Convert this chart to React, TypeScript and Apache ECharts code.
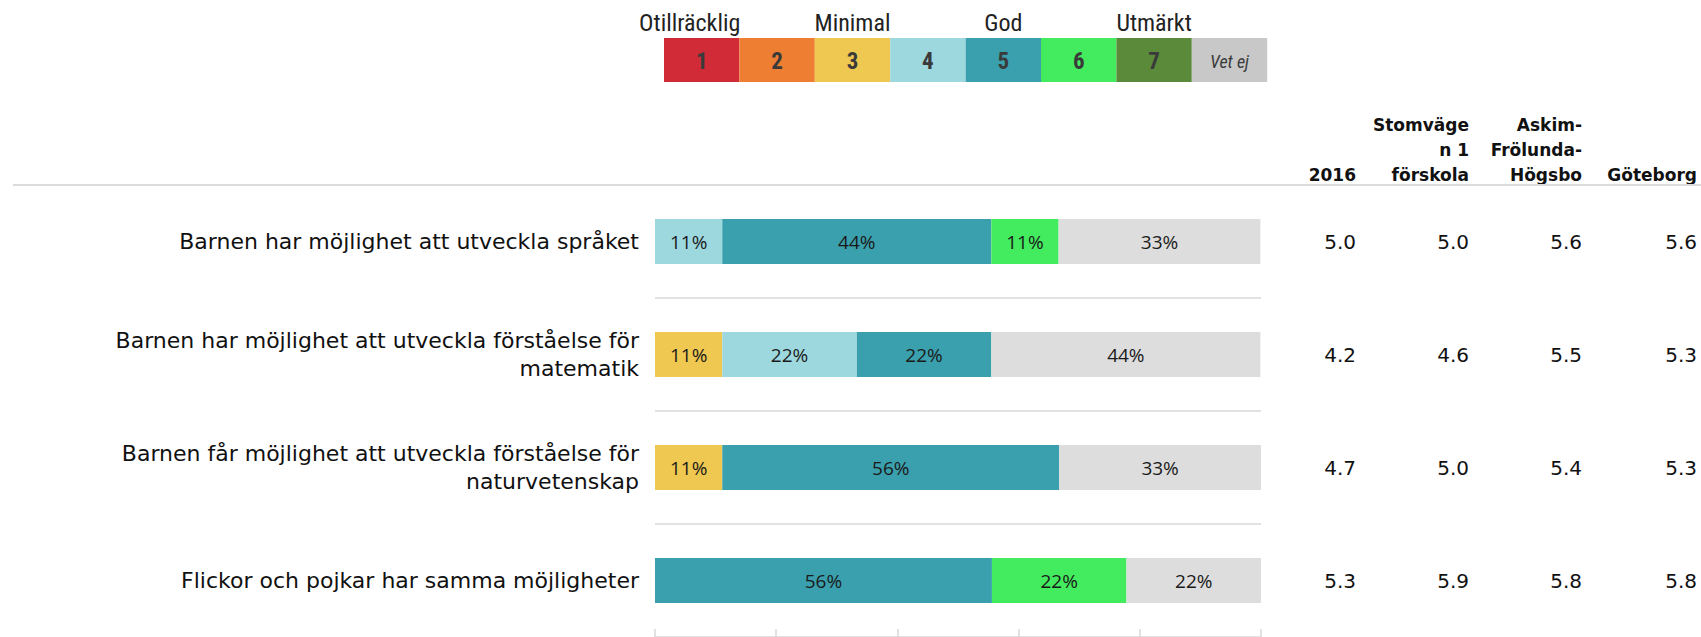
import React, { useEffect, useRef } from "react";
import * as echarts from "echarts";

const categories = [
  "Barnen har möjlighet att utveckla språket",
  "Barnen har möjlighet att utveckla förståelse för\nmatematik",
  "Barnen får möjlighet att utveckla förståelse för\nnaturvetenskap",
  "Flickor och pojkar har samma möjligheter",
];

const levels = ["1", "2", "3", "4", "5", "6", "7", "Vet ej"];
const legendColors = ["#d12b37", "#ee7e32", "#efc851", "#9ed8df", "#3aa0ad", "#43eb5e", "#5a8a3a", "#c8c8c8"];
const barColors = ["#d12b37", "#ee7e32", "#efc851", "#9ed8df", "#3aa0ad", "#43eb5e", "#5a8a3a", "#dddddd"];
const scaleWords = ["Otillräcklig", "Minimal", "God", "Utmärkt"];
const scaleWordLevel = [0, 2, 4, 6];

// share of answers (%) per level, per question (null = no answers)
const level1 = [null, null, null, null];
const level2 = [null, null, null, null];
const level3 = [null, 11.1, 11.1, null];
const level4 = [11.1, 22.2, null, null];
const level5 = [44.4, 22.2, 55.6, 55.6];
const level6 = [11.1, null, null, 22.2];
const level7 = [null, null, null, null];
const vetEj = [33.3, 44.4, 33.3, 22.2];
const levelData = [level1, level2, level3, level4, level5, level6, level7, vetEj];

const columnHeaders = ["2016", "Stomväge\nn 1\nförskola", "Askim-\nFrölunda-\nHögsbo", "Göteborg"];
const values2016 = [5.0, 4.2, 4.7, 5.3];
const valuesStomvagen = [5.0, 4.6, 5.0, 5.9];
const valuesAskim = [5.6, 5.5, 5.4, 5.8];
const valuesGoteborg = [5.6, 5.3, 5.3, 5.8];
const columnValues = [values2016, valuesStomvagen, valuesAskim, valuesGoteborg];

const xTicks = [0, 20, 40, 60, 80, 100];

const SANS = "'DejaVu Sans', sans-serif";
const NARROW = "'Liberation Sans Narrow', 'Arial Narrow', 'Roboto Condensed', sans-serif";
const LABEL = "'Open Sans', sans-serif";

export default function App() {
  const ref = useRef<HTMLDivElement>(null);

  useEffect(() => {
    if (!ref.current) return;
    const chart = echarts.init(ref.current, undefined, { renderer: "svg" });

    const gridLeft = 655;
    const gridRight = 1261;
    const gridTop = 185;
    const colRight = [1356, 1469, 1582, 1697];

    const legendX = 664;
    const legendW = 75.4;
    const legendY = 38;
    const legendH = 44;

    const graphics: any[] = [];
    graphics.push({
      type: "line",
      shape: { x1: 13, y1: gridTop, x2: 1701, y2: gridTop },
      style: { stroke: "#dcdcdc", lineWidth: 2 },
      z: 10,
    });
    levels.forEach((lv, i) => {
      graphics.push({
        type: "rect",
        shape: { x: legendX + i * legendW, y: legendY, width: legendW, height: legendH },
        style: { fill: legendColors[i] },
      });
      graphics.push({
        type: "text",
        x: legendX + (i + 0.5) * legendW,
        y: legendY + legendH / 2 + 1,
        style: {
          text: lv,
          textAlign: "center",
          textVerticalAlign: "middle",
          fontFamily: NARROW,
          fontSize: i === 7 ? 18 : 23,
          fontWeight: i === 7 ? "normal" : "bold",
          fontStyle: i === 7 ? "italic" : "normal",
          fill: "#3a3a3a",
        },
      });
    });
    scaleWords.forEach((w, i) => {
      graphics.push({
        type: "text",
        x: legendX + (scaleWordLevel[i] + 0.5) * legendW - (i === 0 ? 12 : 0),
        y: 23,
        style: {
          text: w,
          textAlign: "center",
          textVerticalAlign: "middle",
          fontFamily: NARROW,
          fontSize: 24,
          fill: "#222",
        },
      });
    });
    columnHeaders.forEach((h, i) => {
      graphics.push({
        type: "text",
        x: colRight[i],
        y: 187,
        style: {
          text: h,
          textAlign: "right",
          textVerticalAlign: "bottom",
          fontFamily: SANS,
          fontSize: 17,
          fontWeight: "bold",
          lineHeight: 25,
          fill: "#111",
        },
      });
    });

    const valueAxes = columnValues.map((vals, i) => ({
      type: "category",
      inverse: true,
      position: "right",
      offset: colRight[i] - gridRight,
      data: vals.map((v) => v.toFixed(1)),
      axisLine: { show: false },
      axisTick: { show: false },
      splitLine: { show: false },
      axisLabel: {
        align: "right",
        margin: 0,
        fontFamily: SANS,
        fontSize: 20,
        color: "#111",
      },
    }));

    chart.setOption({
      animation: false,
      grid: { left: gridLeft, right: 1701 - gridRight, top: gridTop, bottom: 0, containLabel: false },
      xAxis: {
        type: "value",
        min: xTicks[0],
        max: xTicks[xTicks.length - 1],
        interval: xTicks[1] - xTicks[0],
        axisLabel: { show: false },
        axisLine: { show: false },
        splitLine: { show: false },
        axisTick: { show: true, inside: true, length: 8, lineStyle: { color: "#d9d9d9", width: 1.5 } },
      },
      yAxis: [
        {
          type: "category",
          inverse: true,
          data: categories,
          axisLine: { show: false },
          axisTick: { show: false },
          splitLine: { show: true, lineStyle: { color: "#e2e2e2", width: 2 } },
          axisLabel: {
            margin: 16,
            fontFamily: SANS,
            fontSize: 22,
            lineHeight: 28,
            color: "#111",
            align: "right",
          },
        },
        ...valueAxes,
      ],
      series: levels.map((lv, i) => ({
        name: lv,
        type: "bar",
        stack: "total",
        barWidth: 45,
        data: levelData[i],
        itemStyle: { color: barColors[i] },
        label: {
          show: true,
          position: "inside",
          formatter: (p: any) => Math.round(p.value) + "%",
          fontFamily: LABEL,
          fontSize: 19,
          color: "#1a1a1a",
        },
      })),
      graphic: graphics,
    });

    return () => chart.dispose();
  }, []);

  return (
    <div
      ref={ref}
      style={{ position: "fixed", left: 0, top: 0, width: 1701, height: 637, background: "#fff" }}
    />
  );
}
